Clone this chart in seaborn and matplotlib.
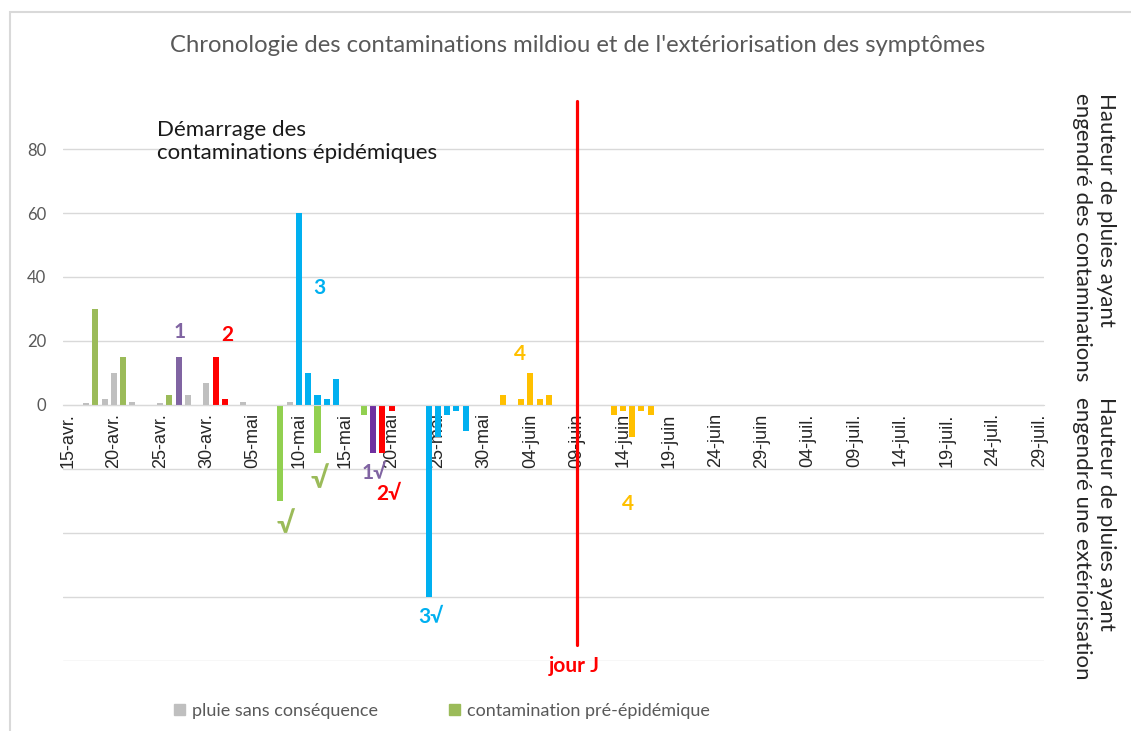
import numpy as np
import pandas as pd
import matplotlib.pyplot as plt
import seaborn as sns
from matplotlib.patches import Patch, Rectangle

# --- données (hauteurs de pluie, mm) ---
debut = "2021-04-15"

pluie_dates = ["2021-04-17", "2021-04-19", "2021-04-20", "2021-04-22", "2021-04-25",
               "2021-04-28", "2021-04-30", "2021-05-04", "2021-05-09"]
pluie_vals = [0.5, 2, 10, 0.8, 0.6, 3, 7, 0.8, 1]

pre_dates = ["2021-04-18", "2021-04-21", "2021-04-26"]
pre_vals = [30, 15, 3]
pre_ext_dates = ["2021-05-08", "2021-05-12", "2021-05-17"]
pre_ext_vals = [-30, -15, -3]

c1_dates = ["2021-04-27"]
c1_vals = [15]
c1_ext_dates = ["2021-05-18"]
c1_ext_vals = [-15]

c2_dates = ["2021-05-01", "2021-05-02"]
c2_vals = [15, 2]
c2_ext_dates = ["2021-05-19", "2021-05-20"]
c2_ext_vals = [-15, -2]

c3_dates = ["2021-05-10", "2021-05-11", "2021-05-12", "2021-05-13", "2021-05-14"]
c3_vals = [60, 10, 3, 2, 8]
c3_ext_dates = ["2021-05-24", "2021-05-25", "2021-05-26", "2021-05-27", "2021-05-28"]
c3_ext_vals = [-60, -10, -3, -2, -8]

c4_dates = ["2021-06-01", "2021-06-03", "2021-06-04", "2021-06-05", "2021-06-06"]
c4_vals = [3, 2, 10, 2, 3]
c4_ext_dates = ["2021-06-13", "2021-06-14", "2021-06-15", "2021-06-16", "2021-06-17"]
c4_ext_vals = [-3, -2, -10, -2, -3]

jour_j = "2021-06-09"
jour_j_bas, jour_j_haut = -75, 95

tick_labels = ["15-avr.", "20-avr.", "25-avr.", "30-avr.", "05-mai", "10-mai", "15-mai",
               "20-mai", "25-mai", "30-mai", "04-juin", "09-juin", "14-juin", "19-juin",
               "24-juin", "29-juin", "04-juil.", "09-juil.", "14-juil.", "19-juil.",
               "24-juil.", "29-juil."]

couleurs = {"pluie": "#bfbfbf", "pre": "#9bbb59", "pre_ext": "#92d050",
            "c1": "#8064a2", "c1_ext": "#7030a0", "c2": "#ff0000", "c2_ext": "#ff0000",
            "c3": "#00b0f0", "c3_ext": "#00b0f0", "c4": "#ffc000", "c4_ext": "#ffc000"}

series = {"pluie": (pluie_dates, pluie_vals), "pre": (pre_dates, pre_vals),
          "pre_ext": (pre_ext_dates, pre_ext_vals), "c1": (c1_dates, c1_vals),
          "c1_ext": (c1_ext_dates, c1_ext_vals), "c2": (c2_dates, c2_vals),
          "c2_ext": (c2_ext_dates, c2_ext_vals), "c3": (c3_dates, c3_vals),
          "c3_ext": (c3_ext_dates, c3_ext_vals), "c4": (c4_dates, c4_vals),
          "c4_ext": (c4_ext_dates, c4_ext_vals)}

t0 = pd.Timestamp(debut)
rows = []
for nom, (dates, vals) in series.items():
    for d, v in zip(dates, vals):
        rows.append({"jour": (pd.Timestamp(d) - t0).days, "hauteur": v, "serie": nom})
df = pd.DataFrame(rows)

sns.set_style("white")
plt.rcParams["font.family"] = ["Lato", "DejaVu Sans"]

fig, ax = plt.subplots(figsize=(11.31, 7.31), dpi=100)
fig.subplots_adjust(left=63 / 1131, right=1044 / 1131, bottom=1 - 661 / 731, top=1 - 97.8 / 731)

sns.barplot(data=df, x="jour", y="hauteur", hue="serie", palette=couleurs,
            native_scale=True, dodge=False, width=0.65, errorbar=None,
            saturation=1, legend=False, linewidth=0, edgecolor="none", ax=ax)

jj = (pd.Timestamp(jour_j) - t0).days
ax.plot([jj, jj], [jour_j_bas, jour_j_haut], color="#ff0000", lw=2.3, zorder=5)

ax.set_xlim(-0.5, 105.5)
ax.set_ylim(-80, 96)
ax.set_xlabel("")
ax.set_ylabel("")

# axe des y : seulement les valeurs positives sont affichées
yt = list(range(-80, 81, 20))
ax.set_yticks(yt)
ax.set_yticklabels([str(v) if v >= 0 else "" for v in yt])
ax.tick_params(axis="y", length=0, labelcolor="#595959", labelsize=12, pad=12)
ax.grid(axis="y", color="#d9d9d9", lw=1)
ax.grid(axis="x", visible=False)
ax.set_axisbelow(True)

for s in ["left", "top", "right"]:
    ax.spines[s].set_visible(False)
ax.spines["bottom"].set_position(("data", 0))
ax.spines["bottom"].set_color("#d9d9d9")

ax.set_xticks(range(0, 106, 5))
ax.set_xticklabels(tick_labels, rotation=90, fontsize=13, family="Liberation Sans")
ax.set_xticks(np.arange(-0.5, 106, 5), minor=True)
ax.tick_params(axis="x", which="major", length=0, pad=6)
ax.tick_params(axis="x", which="minor", length=46, color="#d9d9d9", width=1)

# annotations
ax.text(9.7, 89, "Démarrage des\ncontaminations épidémiques", fontsize=16,
        ha="left", va="top", color="#1a1a1a", linespacing=1.2)
ax.text(27.2, 36.6, "3", color="#00b0f0", fontsize=15, fontweight="bold", ha="center", va="center")
ax.text(12.1, 22.8, "1", color="#8064a2", fontsize=15, fontweight="bold", ha="center", va="center")
ax.text(17.3, 21.9, "2", color="#ff0000", fontsize=15, fontweight="bold", ha="center", va="center")
ax.text(48.9, 15.9, "4", color="#ffc000", fontsize=15, fontweight="bold", ha="center", va="center")
ax.text(60.5, -30.9, "4", color="#ffc000", fontsize=15, fontweight="bold", ha="center", va="center")
ax.text(23.5, -37.5, "√", color="#9bbb59", fontsize=21, fontweight="bold", ha="center", va="center")
ax.text(27.2, -23.5, "√", color="#9bbb59", fontsize=21, fontweight="bold", ha="center", va="center")
ax.text(33.1, -21.3, "1√", color="#8064a2", fontsize=15, fontweight="bold", ha="center", va="center")
ax.text(34.7, -27.8, "2√", color="#ff0000", fontsize=15, fontweight="bold", ha="center", va="center")
ax.text(39.3, -66.3, "3√", color="#00b0f0", fontsize=15, fontweight="bold", ha="center", va="center")
ax.text(54.7, -81.6, "jour J", color="#ff0000", fontsize=15, fontweight="bold",
        ha="center", va="center", clip_on=False)

fig.text(578 / 1131, 1 - 45 / 731,
         "Chronologie des contaminations mildiou et de l'extériorisation des symptômes",
         ha="center", va="center", color="#595959", fontsize=17.2)

fig.text(1094 / 1131, 1 - 93 / 731, "Hauteur de pluies ayant\nengendré des contaminations",
         rotation=-90, ha="center", va="top", multialignment="left", fontsize=16)
fig.text(1094 / 1131, 1 - 397 / 731, "Hauteur de pluies ayant\nengendré une extériorisation",
         rotation=-90, ha="center", va="top", multialignment="left", fontsize=16)

handles = [Patch(color="#bfbfbf"), Patch(color="#9bbb59")]
fig.legend(handles, ["pluie sans conséquence", "contamination pré-épidémique"],
           loc="center left", bbox_to_anchor=(158 / 1131, 1 - 711 / 731), ncol=2,
           frameon=False, handlelength=0.6, handleheight=0.6, handletextpad=0.4,
           columnspacing=3.9, fontsize=13, labelcolor="#595959")

fig.patches.append(Rectangle((10 / 1131, -0.1), 1.2, 1.1 - 12 / 731, transform=fig.transFigure,
                             fill=False, ec="#d9d9d9", lw=1.5))

fig.savefig("out.png", dpi=100)
